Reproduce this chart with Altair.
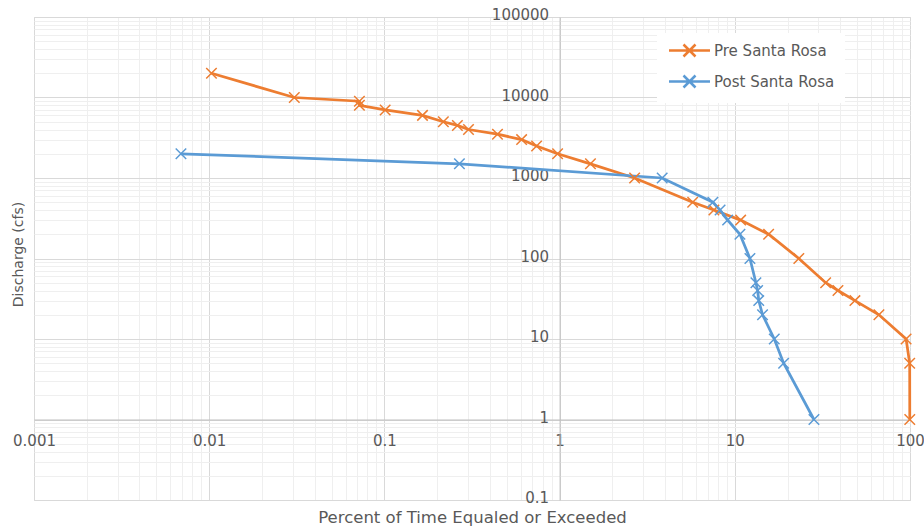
import altair as alt
import pandas as pd

# ---- data ----
series_names = ["Pre Santa Rosa", "Post Santa Rosa"]
series_colors = ["#ED7D31", "#5B9BD5"]

pre_pct = [0.0103, 0.0306, 0.072, 0.072, 0.101, 0.165, 0.217, 0.261, 0.302, 0.442,
           0.607, 0.739, 0.974, 1.50, 2.68, 5.75, 7.6, 10.8, 15.6, 23.2,
           33.0, 38.8, 48.5, 66.5, 95.0, 99.6, 99.7]
pre_cfs = [20000, 10000, 9000, 8000, 7000, 6000, 5000, 4500, 4000, 3500,
           3000, 2500, 2000, 1500, 1000, 500, 400, 300, 200, 100,
           50, 40, 30, 20, 10, 5, 1]

post_pct = [0.0069, 0.268, 3.85, 7.5, 8.24, 9.1, 10.7, 12.2, 13.2, 13.5,
            13.7, 14.4, 16.8, 19.0, 28.3]
post_cfs = [2000, 1500, 1000, 500, 400, 300, 200, 100, 50, 40,
            30, 20, 10, 5, 1]

x_major = [0.001, 0.01, 0.1, 1, 10, 100]
y_major = [0.1, 1, 10, 100, 1000, 10000, 100000]

rows = []
for i, (x, y) in enumerate(zip(pre_pct, pre_cfs)):
    rows.append({"series": series_names[0], "order": i, "pct": x, "cfs": y})
for i, (x, y) in enumerate(zip(post_pct, post_cfs)):
    rows.append({"series": series_names[1], "order": i, "pct": x, "cfs": y})
df = pd.DataFrame(rows)

x_minor = [round(k * d, 6) for d in x_major[:-1] for k in range(2, 10)]
y_minor = [round(k * d, 6) for d in y_major[:-1] for k in range(2, 10)]

FONT = "DejaVu Sans"
TXT = "#595959"
W, H = 876, 483
X_AT_1 = 3 * W / 5          # x pixel of value 1 inside plot
Y_AT_1 = H - H / 6          # y pixel of value 1 inside plot

x_scale = alt.Scale(type="log", domain=[0.001, 100], nice=False)
y_scale = alt.Scale(type="log", domain=[0.1, 100000], nice=False)

LEG_SYMBOL = "M-4.1,0L4.1,0M-1.2,-1.2L1.2,1.2M-1.2,1.2L1.2,-1.2"
X_SHAPE = "M-1,-1L1,1M-1,1L1,-1"

color = alt.Color(
    "series:N",
    scale=alt.Scale(domain=series_names, range=series_colors),
    legend=alt.Legend(
        title=None, orient="none", legendX=623, legendY=16,
        symbolType=LEG_SYMBOL, symbolSize=100, symbolStrokeWidth=2.5,
        symbolOffset=15, labelOffset=17,
        labelFont=FONT, labelFontSize=15, labelColor=TXT,
        rowPadding=8, padding=10, fillColor="white",
    ),
)

lines = alt.Chart(df).mark_line(strokeWidth=2.75).encode(
    x=alt.X("pct:Q", scale=x_scale,
            axis=alt.Axis(orient="bottom", values=x_minor, grid=True, gridColor="#efefef",
                          labels=False, ticks=False, domain=False, title=None)),
    y=alt.Y("cfs:Q", scale=y_scale,
            axis=alt.Axis(orient="left", values=y_minor, grid=True, gridColor="#efefef",
                          labels=False, ticks=False, domain=False, title=None)),
    color=color,
    order="order:Q",
)

points = alt.Chart(df).mark_point(shape=X_SHAPE, filled=False, size=110,
                                  strokeWidth=1.5, opacity=1).encode(
    x=alt.X("pct:Q", scale=x_scale,
            axis=alt.Axis(orient="bottom", offset=-(H - Y_AT_1), values=x_major, format="~g",
                          grid=True, gridColor="#d9d9d9", domainColor="#bfbfbf",
                          ticks=False, labelFont=FONT, labelFontSize=15, labelColor=TXT,
                          labelPadding=14, labelBaseline="top", labelFlush=False,
                          labelOverlap=False,
                          title="Percent of Time Equaled or Exceeded", titleFont=FONT,
                          titleFontSize=16.5, titleFontWeight="normal", titleColor=TXT,
                          titleY=98, titleBaseline="middle")),
    y=alt.Y("cfs:Q", scale=y_scale,
            axis=alt.Axis(orient="left", offset=-X_AT_1, values=y_major, format="~g",
                          grid=True, gridColor="#d9d9d9", domainColor="#bfbfbf",
                          ticks=False, labelFont=FONT, labelFontSize=15, labelColor=TXT,
                          labelPadding=11, labelBaseline="middle", labelFlush=False,
                          labelOverlap=False, labelOffset=-2.5,
                          title="Discharge (cfs)", titleFont=FONT,
                          titleFontSize=14, titleFontWeight="normal", titleColor=TXT,
                          titleX=-(X_AT_1 + 34 - 18.5), titleY=237,
                          titleAlign="center", titleBaseline="middle")),
    color=color,
)

chart = alt.layer(lines, points).resolve_axis(
    x="independent", y="independent"
).properties(
    width=W, height=H,
    autosize=alt.AutoSizeParams(type="none"),
    padding={"left": 34, "top": 17, "right": 14, "bottom": 27},
    background="white",
).configure_view(stroke="#d9d9d9", strokeWidth=1)

chart.save("out.html", embed_options={"renderer": "svg", "actions": False})
